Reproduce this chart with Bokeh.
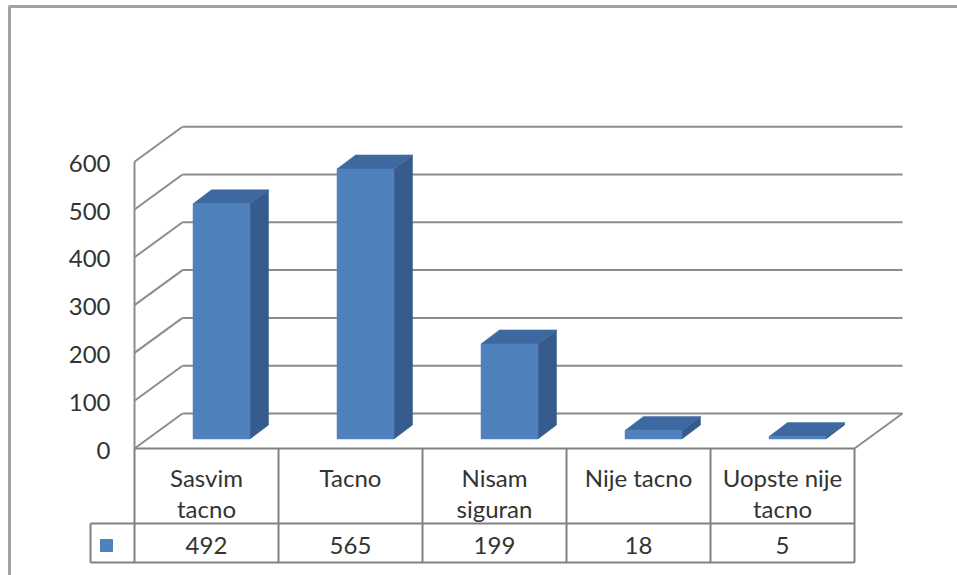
from bokeh.plotting import figure
from bokeh.models import Range1d
from bokeh.embed import file_html
from bokeh.resources import INLINE
from bokeh.core.properties import value

# ---- data -------------------------------------------------------------
categories = ["Sasvim\ntacno", "Tacno", "Nisam\nsiguran", "Nije tacno", "Uopste nije\ntacno"]
counts = [492, 565, 199, 18, 5]
y_ticks = [0, 100, 200, 300, 400, 500, 600]

# ---- page geometry (pixels) -------------------------------------------
W, H = 957, 575
X0 = 134.0          # front-left corner of the floor
COL = 144.0         # width of one category column
Y0 = 448.0          # front floor line (value 0)
PPU = 0.478         # pixels per value unit


def ux(px):
    return (px - X0) / COL


def vy(py):
    return (Y0 - py) / PPU


# oblique depth of the plot box and of the bars
DXB, DYB = 48 / COL, 35 / PPU          # back wall offset
FDX, FDY = 15 / COL, 9.5 / PPU         # bar front face offset
BDX, BDY = 18.5 / COL, 14 / PPU        # bar depth
BW = 57 / COL                          # bar face width

FRONT = "#4f81bd"
SIDE = "#375b8c"
TOP = "#3e68a0"
GRID = "#8c8c8c"
TABLE = "#808080"
TXT = "#333333"
FONT = value("Lato")
FS = "24px"

p = figure(width=W, height=H, output_backend="svg", toolbar_location=None,
           x_range=Range1d(ux(0), ux(W)), y_range=Range1d(vy(H), vy(0)),
           x_axis_type=None, y_axis_type=None, min_border=0)
p.grid.visible = False
p.outline_line_color = None
p.background_fill_color = "white"
p.border_fill_color = "white"

n = len(categories)
ymax = y_ticks[-1]

# back wall gridlines and the matching diagonals on the side wall
p.multi_line(xs=[[DXB, n + DXB] for _ in y_ticks],
             ys=[[t + DYB, t + DYB] for t in y_ticks],
             line_color=GRID, line_width=2)
p.multi_line(xs=[[0, DXB] for _ in y_ticks],
             ys=[[t, t + DYB] for t in y_ticks],
             line_color=GRID, line_width=2)
# front-left edge of the value axis and right edge of the floor
p.line([0, 0], [0, ymax], line_color=GRID, line_width=2)
p.line([n, n + DXB], [0, DYB], line_color=GRID, line_width=2)

# 3-D columns built from the counts
front_xs, front_ys, side_xs, side_ys, top_xs, top_ys = [], [], [], [], [], []
for i, c in enumerate(counts):
    x0 = i + 0.5 + FDX - BW / 2
    x1 = x0 + BW
    b = FDY
    t = b + c
    front_xs.append([x0, x1, x1, x0])
    front_ys.append([b, b, t, t])
    side_xs.append([x1, x1 + BDX, x1 + BDX, x1])
    side_ys.append([b, b + BDY, t + BDY, t])
    top_xs.append([x0, x1, x1 + BDX, x0 + BDX])
    top_ys.append([t, t, t + BDY, t + BDY])
p.patches(side_xs, side_ys, fill_color=SIDE, line_color=SIDE, line_width=0.5)
p.patches(top_xs, top_ys, fill_color=TOP, line_color=TOP, line_width=0.5)
p.patches(front_xs, front_ys, fill_color=FRONT, line_color=FRONT, line_width=0.5)

# value axis labels
p.text(x=[ux(110)] * len(y_ticks), y=[t - 1.5 / PPU for t in y_ticks],
       text=[str(t) for t in y_ticks], text_align="right",
       text_baseline="middle", text_font=FONT, text_font_size=FS,
       text_color=TXT)

# data table under the floor
row_mid = vy(523)
row_bot = vy(562)
leg_left = ux(90)
p.line([0, n], [0, 0], line_color=TABLE, line_width=2)
p.multi_line(xs=[[leg_left, n], [leg_left, n]], ys=[[row_mid, row_mid], [row_bot, row_bot]],
             line_color=TABLE, line_width=2)
p.multi_line(xs=[[k, k] for k in range(n + 1)] + [[leg_left, leg_left]],
             ys=[[0, row_bot] for _ in range(n + 1)] + [[row_mid, row_bot]],
             line_color=TABLE, line_width=2)
p.scatter(x=[ux(106)], y=[vy(545)], marker="square", size=12,
          fill_color=FRONT, line_color=FRONT)

lx, ly, lt = [], [], []
for i, cat in enumerate(categories):
    for j, part in enumerate(cat.split("\n")):
        lx.append(i + 0.5)
        ly.append(vy(477 + 31 * j))
        lt.append(part)
p.text(x=lx, y=ly, text=lt, text_align="center", text_baseline="middle",
       text_font=FONT, text_font_size=FS, text_color=TXT)
p.text(x=[i + 0.5 for i in range(n)], y=[vy(544.5)] * n, text=[str(c) for c in counts],
       text_align="center", text_baseline="middle",
       text_font=FONT, text_font_size=FS, text_color=TXT)

# frame around the chart area
p.line([ux(9), ux(9)], [vy(6), vy(H)], line_color="#a3a3a3", line_width=3)
p.line([ux(8), ux(W)], [vy(6), vy(6)], line_color="#a3a3a3", line_width=3)

open("out.html", "w").write(file_html(p, INLINE))
